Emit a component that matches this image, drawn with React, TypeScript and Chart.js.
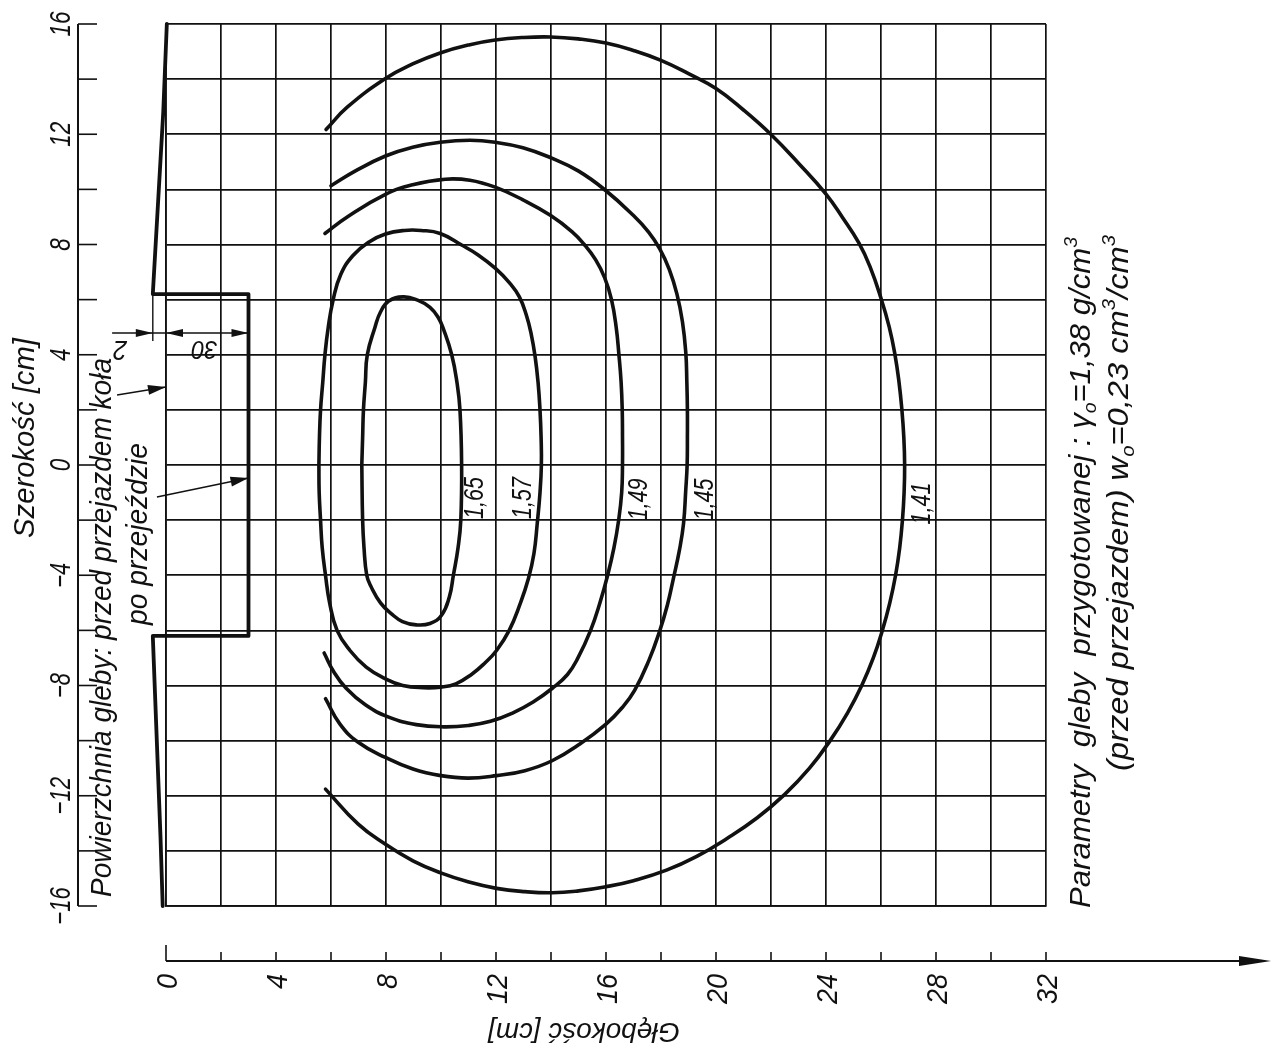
import React, { useEffect, useRef } from "react";
import { Chart, registerables } from "chart.js";

Chart.register(...registerables);

const CANVAS_W = 1273;
const CANVAS_H = 1059;

// ---- axis ticks ----
const widthTickMarks = [16, 14, 12, 10, 8, 6, 4, 2, 0, -2, -4, -6, -8, -10, -12, -14, -16];
const widthTickLabels = [16, 12, 8, 4, 0, -4, -8, -12, -16];
const depthTickMarks = [0, 2, 4, 6, 8, 10, 12, 14, 16, 18, 20, 22, 24, 26, 28, 30, 32];
const depthTickLabels = [0, 4, 8, 12, 16, 20, 24, 28, 32];

// ---- isolines of soil density (depth [cm], width [cm]) ----
const iso141Depth = [5.82, 6.59, 7.98, 8.97, 9.97, 11.05, 11.97, 12.98, 13.99, 14.99, 16.0, 17.0, 18.0, 19.0, 20.0, 21.0, 22.0, 23.0, 24.0, 24.6, 25.2, 25.6, 26.0, 26.3, 26.5, 26.65, 26.76, 26.83, 26.86, 26.84, 26.78, 26.68, 26.53, 26.32, 26.05, 25.72, 25.3, 24.78, 24.15, 23.4, 22.5, 21.5, 20.4, 19.3, 18.2, 17.0, 16.0, 15.0, 14.04, 13.05, 12.02, 10.98, 9.99, 8.98, 7.98, 6.99, 5.8];
const iso141Width = [12.17, 12.98, 14.02, 14.55, 14.95, 15.25, 15.42, 15.51, 15.53, 15.46, 15.31, 15.04, 14.68, 14.2, 13.66, 12.88, 11.99, 10.95, 9.83, 8.98, 8.05, 7.2, 6.05, 5.0, 4.05, 3.05, 2.0, 1.0, 0.0, -1.0, -2.0, -3.0, -4.0, -5.0, -6.0, -7.0, -8.0, -9.0, -10.0, -11.0, -11.95, -12.8, -13.55, -14.2, -14.7, -15.08, -15.3, -15.45, -15.52, -15.48, -15.36, -15.12, -14.8, -14.36, -13.76, -13.03, -11.76];

const iso145Depth = [6.0, 6.89, 7.98, 8.97, 9.97, 11.05, 11.97, 12.98, 13.99, 14.99, 16.0, 17.0, 17.55, 17.95, 18.3, 18.58, 18.78, 18.9, 18.94, 18.96, 18.96, 18.95, 18.9, 18.82, 18.67, 18.45, 18.23, 17.96, 17.56, 17.04, 16.6, 16.01, 15.05, 14.04, 13.05, 12.02, 10.98, 9.99, 8.98, 7.98, 6.99, 6.32, 5.8];
const iso145Width = [10.13, 10.67, 11.21, 11.53, 11.71, 11.78, 11.71, 11.51, 11.15, 10.67, 9.95, 9.05, 8.45, 7.85, 7.1, 6.2, 5.2, 4.1, 3.0, 2.0, 1.0, 0.0, -0.91, -2.12, -3.09, -4.12, -5.09, -6.0, -7.09, -8.18, -8.79, -9.39, -10.12, -10.73, -11.09, -11.27, -11.36, -11.27, -11.03, -10.61, -10.06, -9.39, -8.48];

const iso149Depth = [5.78, 6.59, 7.98, 8.97, 10.16, 11.05, 11.97, 12.98, 13.99, 14.77, 15.21, 15.62, 15.95, 16.2, 16.37, 16.47, 16.55, 16.59, 16.6, 16.6, 16.57, 16.46, 16.29, 16.06, 15.78, 15.44, 14.98, 14.6, 14.05, 13.35, 12.6, 11.8, 11.0, 10.1, 9.1, 8.1, 7.25, 6.55, 6.1, 5.75];
const iso149Width = [8.4, 9.0, 9.82, 10.17, 10.37, 10.33, 10.08, 9.62, 9.05, 8.46, 8.0, 7.45, 6.8, 6.0, 5.0, 4.0, 3.0, 2.0, 1.0, 0.0, -1.0, -2.0, -3.0, -4.0, -5.0, -6.0, -7.0, -7.6, -8.1, -8.6, -9.0, -9.3, -9.45, -9.5, -9.42, -9.15, -8.7, -8.1, -7.5, -6.82];

const iso157Depth = [5.56, 5.58, 5.62, 5.7, 5.78, 5.9, 6.08, 6.35, 6.8, 7.4, 7.98, 8.67, 9.27, 9.97, 10.75, 11.35, 11.97, 12.5, 12.85, 13.1, 13.28, 13.42, 13.53, 13.6, 13.64, 13.65, 13.6, 13.5, 13.38, 13.18, 12.88, 12.48, 12.02, 11.57, 11.13, 10.54, 9.99, 9.35, 8.61, 7.98, 7.28, 6.69, 6.22, 5.95, 5.8, 5.68, 5.62, 5.57, 5.56];
const iso157Width = [0.0, 1.0, 2.0, 3.0, 4.0, 5.0, 6.0, 6.9, 7.6, 8.1, 8.38, 8.51, 8.51, 8.4, 7.98, 7.62, 7.14, 6.6, 6.1, 5.45, 4.75, 3.95, 3.0, 2.0, 1.0, 0.0, -1.0, -2.12, -3.21, -4.12, -5.03, -6.0, -6.73, -7.21, -7.58, -7.94, -8.06, -8.08, -8.0, -7.76, -7.33, -6.73, -6.0, -5.0, -4.0, -3.0, -2.0, -1.0, 0.0];

const iso165Depth = [7.12, 7.15, 7.18, 7.25, 7.32, 7.6, 7.8, 8.1, 8.63, 9.15, 9.6, 9.9, 10.1, 10.39, 10.58, 10.69, 10.75, 10.72, 10.62, 10.45, 10.3, 10.02, 9.6, 9.1, 8.6, 8.2, 7.8, 7.45, 7.3, 7.2, 7.15, 7.12];
const iso165Width = [0.0, 1.0, 2.0, 3.0, 4.0, 5.0, 5.55, 5.95, 6.1, 5.98, 5.72, 5.35, 4.9, 4.0, 3.0, 2.0, 0.0, -2.0, -3.0, -4.0, -4.8, -5.45, -5.75, -5.8, -5.68, -5.4, -5.0, -4.4, -4.0, -3.0, -2.0, 0.0];

// isoline labels
const isoLabels = ["1,65", "1,57", "1,49", "1,45", "1,41"];
const isoLabelDepth = [11.25, 13.0, 17.2, 19.6, 27.5];
const isoLabelWidth = [-1.2, -1.2, -1.25, -1.25, -1.4];

// soil surface after the wheel pass (rut 3,0 cm deep)
const surfaceDepth = [0.03, -0.1, -0.48, 3.0, 3.0, -0.48, -0.2, -0.12];
const surfaceWidth = [16, 12.8, 6.2, 6.2, -6.2, -6.2, -13.5, -16];

const INK = "#111111";
const FAMILY = '"Liberation Sans", "DejaVu Sans", Arial, sans-serif';

function pts(xs: number[], ys: number[]) {
  return xs.map((x, i) => ({ x, y: ys[i] }));
}

type Seg = { t: string; sub?: boolean; sup?: boolean };

function drawRich(
  ctx: CanvasRenderingContext2D,
  segs: Seg[],
  x: number,
  y: number,
  angle: number,
  size: number,
  targetLen: number,
  align: "left" | "center" | "right" = "left",
  baseline: CanvasTextBaseline = "alphabetic"
) {
  ctx.save();
  ctx.translate(x, y);
  ctx.rotate(angle);
  ctx.fillStyle = INK;
  ctx.textAlign = "left";
  ctx.textBaseline = baseline;
  const fontFor = (s: Seg) => `italic ${s.sub || s.sup ? Math.round(size * 0.62) : size}px ${FAMILY}`;
  const widths = segs.map((s) => {
    ctx.font = fontFor(s);
    return ctx.measureText(s.t).width;
  });
  const total = widths.reduce((a, b) => a + b, 0);
  const k = targetLen / total;
  ctx.scale(k, 1);
  let cx = align === "left" ? 0 : align === "center" ? -total / 2 : -total;
  segs.forEach((s, i) => {
    ctx.font = fontFor(s);
    const dy = s.sub ? size * 0.22 : s.sup ? -size * 0.45 : 0;
    ctx.fillText(s.t, cx, dy);
    cx += widths[i];
  });
  ctx.restore();
}

function arrowHead(ctx: CanvasRenderingContext2D, tx: number, ty: number, fx: number, fy: number, len = 16, half = 4.5) {
  const a = Math.atan2(ty - fy, tx - fx);
  ctx.beginPath();
  ctx.moveTo(tx, ty);
  ctx.lineTo(tx - len * Math.cos(a) + half * Math.sin(a), ty - len * Math.sin(a) - half * Math.cos(a));
  ctx.lineTo(tx - len * Math.cos(a) - half * Math.sin(a), ty - len * Math.sin(a) + half * Math.cos(a));
  ctx.closePath();
  ctx.fill();
}

const decorations = {
  id: "decorations",
  beforeDraw(chart: any) {
    const ctx: CanvasRenderingContext2D = chart.ctx;
    ctx.save();
    ctx.fillStyle = "#ffffff";
    ctx.fillRect(0, 0, chart.width, chart.height);
    ctx.restore();
  },
  afterDraw(chart: any) {
    const ctx: CanvasRenderingContext2D = chart.ctx;
    const xs = chart.scales.x;
    const ys = chart.scales.y;
    const X = (v: number) => xs.getPixelForValue(v);
    const Y = (v: number) => ys.getPixelForValue(v);
    const R = -Math.PI / 2;

    ctx.save();
    ctx.strokeStyle = INK;
    ctx.fillStyle = INK;
    ctx.lineCap = "butt";

    // ---- left (width) axis ----
    const axX = 78;
    ctx.lineWidth = 2;
    ctx.beginPath();
    ctx.moveTo(axX, Y(16));
    ctx.lineTo(axX, Y(-16));
    ctx.stroke();
    ctx.lineWidth = 1.6;
    widthTickMarks.forEach((v) => {
      ctx.beginPath();
      ctx.moveTo(axX, Y(v));
      ctx.lineTo(axX + 19, Y(v));
      ctx.stroke();
    });
    widthTickLabels.forEach((v) => {
      const s = String(v).replace("-", "\u2212");
      drawRich(ctx, [{ t: s }], 70, Y(v), R, 30, s.length * 12.5, "center");
    });

    // ---- bottom (depth) axis ----
    const axY = 961;
    ctx.lineWidth = 2;
    ctx.beginPath();
    ctx.moveTo(X(0), axY);
    ctx.lineTo(1255, axY);
    ctx.stroke();
    arrowHead(ctx, 1271, axY, 1200, axY, 32, 5);
    ctx.lineWidth = 1.6;
    depthTickMarks.forEach((v) => {
      ctx.beginPath();
      ctx.moveTo(X(v), axY);
      ctx.lineTo(X(v), axY - (v === 0 ? 16 : 9));
      ctx.stroke();
    });
    depthTickLabels.forEach((v) => {
      const s = String(v);
      drawRich(ctx, [{ t: s }], X(v) + 11, 974, R, 30, s.length * 15, "right");
    });

    // ---- axis titles ----
    drawRich(ctx, [{ t: "Szerokość [cm]" }], 34, 538, R, 30, 200);
    drawRich(ctx, [{ t: "Głębokość [cm]" }], 584, 1031, Math.PI, 27, 192, "center", "middle");

    // ---- soil surface notes ----
    drawRich(ctx, [{ t: "Powierzchnia gleby: przed przejazdem koła" }], 111, 897, R, 29, 539);
    drawRich(ctx, [{ t: "po przejeździe" }], 147, 625, R, 29, 182);

    // arrows to the surfaces
    ctx.lineWidth = 1.4;
    const a1 = { fx: X(-1.78), fy: Y(2.54), tx: X(0), ty: Y(2.83) };
    ctx.beginPath();
    ctx.moveTo(a1.fx, a1.fy);
    ctx.lineTo(a1.tx, a1.ty);
    ctx.stroke();
    arrowHead(ctx, a1.tx, a1.ty, a1.fx, a1.fy, 18, 5);
    const a2 = { fx: X(-0.33), fy: Y(-1.16), tx: X(3.0), ty: Y(-0.47) };
    ctx.beginPath();
    ctx.moveTo(a2.fx, a2.fy);
    ctx.lineTo(a2.tx, a2.ty);
    ctx.stroke();
    arrowHead(ctx, a2.tx, a2.ty, a2.fx, a2.fy, 18, 5);

    // dimension line of the rut
    const dimY = Y(4.79);
    ctx.lineWidth = 1.4;
    ctx.beginPath();
    ctx.moveTo(X(-1.96), dimY);
    ctx.lineTo(X(3.0), dimY);
    ctx.stroke();
    ctx.beginPath();
    ctx.moveTo(X(-0.48), Y(6.2));
    ctx.lineTo(X(-0.48), Y(4.5));
    ctx.stroke();
    arrowHead(ctx, X(-0.48), dimY, X(-2), dimY, 17, 4);
    arrowHead(ctx, X(0), dimY, X(2), dimY, 17, 4);
    arrowHead(ctx, X(3.0), dimY, X(1), dimY, 17, 4);
    drawRich(ctx, [{ t: "2" }], X(-1.67), Y(4.2), Math.PI, 28, 14, "center", "middle");
    drawRich(ctx, [{ t: "30" }], X(1.4), Y(4.25), Math.PI, 26, 26, "center", "middle");

    // ---- isoline labels ----
    isoLabels.forEach((lab, i) => {
      drawRich(ctx, [{ t: lab }], X(isoLabelDepth[i]), Y(isoLabelWidth[i]), R, 27, 42, "center", "middle");
    });

    // ---- soil parameters ----
    drawRich(
      ctx,
      [
        { t: "Parametry  gleby  przygotowanej : γ" },
        { t: "o", sub: true },
        { t: "=1,38 g/cm" },
        { t: "3", sup: true },
      ],
      1090,
      908,
      R,
      29,
      671
    );
    drawRich(
      ctx,
      [
        { t: "(przed przejazdem) w" },
        { t: "o", sub: true },
        { t: "=0,23 cm" },
        { t: "3", sup: true },
        { t: "/cm" },
        { t: "3", sup: true },
      ],
      1128,
      771,
      R,
      29,
      536
    );

    ctx.restore();
  },
};

function lineDs(xs: number[], ys: number[], width: number, tension: number) {
  return {
    data: pts(xs, ys),
    showLine: true,
    borderColor: INK,
    backgroundColor: INK,
    borderWidth: width,
    tension,
    cubicInterpolationMode: "default",
    pointRadius: 0,
    pointHoverRadius: 0,
    fill: false,
    clip: false as any,
    borderCapStyle: "round" as const,
    borderJoinStyle: "round" as const,
  };
}

export default function App() {
  const ref = useRef<HTMLCanvasElement | null>(null);

  useEffect(() => {
    if (!ref.current) return;
    const gridStyle = { color: INK, lineWidth: 1.7, drawTicks: false };
    const chart = new Chart(ref.current, {
      type: "line",
      data: {
        datasets: [
          lineDs(iso141Depth, iso141Width, 3.6, 0.45),
          lineDs(iso145Depth, iso145Width, 3.6, 0.45),
          lineDs(iso149Depth, iso149Width, 3.6, 0.45),
          lineDs(iso157Depth, iso157Width, 3.6, 0.45),
          lineDs(iso165Depth, iso165Width, 3.6, 0.45),
          lineDs(surfaceDepth, surfaceWidth, 3.8, 0),
        ] as any,
      },
      options: {
        responsive: false,
        animation: false,
        events: [],
        parsing: { xAxisKey: "x", yAxisKey: "y" },
        layout: { padding: { left: 166, right: CANVAS_W - 1046, top: 24, bottom: CANVAS_H - 906 } },
        plugins: { legend: { display: false }, tooltip: { enabled: false } },
        scales: {
          x: {
            type: "linear",
            min: 0,
            max: 32,
            ticks: { stepSize: 2, display: false },
            grid: gridStyle,
            border: { display: true, color: INK, width: 1.7 },
            afterFit: (s: any) => {
              s.height = 0;
            },
          },
          y: {
            type: "linear",
            min: -16,
            max: 16,
            ticks: { stepSize: 2, display: false },
            grid: gridStyle,
            border: { display: true, color: INK, width: 1.7 },
            afterFit: (s: any) => {
              s.width = 0;
            },
          },
        } as any,
      } as any,
      plugins: [decorations],
    });
    return () => chart.destroy();
  }, []);

  return (
    <div style={{ position: "absolute", left: 0, top: 0, width: CANVAS_W, height: CANVAS_H, background: "#fff" }}>
      <canvas ref={ref} width={CANVAS_W} height={CANVAS_H} style={{ display: "block" }} />
    </div>
  );
}
